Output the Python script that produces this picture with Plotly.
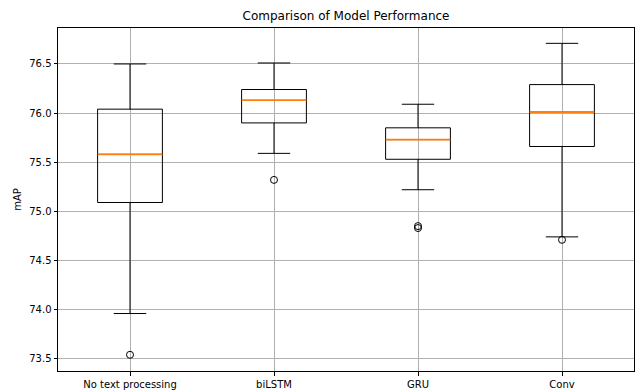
import plotly.graph_objects as go

categories = ["No text processing", "biLSTM", "GRU", "Conv"]
positions = [1, 2, 3, 4]
lower_whisker = [73.96, 75.59, 75.22, 74.74]
q1 = [75.09, 75.90, 75.53, 75.66]
median = [75.58, 76.13, 75.73, 76.01]
q3 = [76.04, 76.24, 75.85, 76.29]
upper_whisker = [76.50, 76.51, 76.09, 76.71]
outliers = [[73.54], [75.32], [74.83, 74.85], [74.71]]
yticks = [73.5, 74.0, 74.5, 75.0, 75.5, 76.0, 76.5]

box_width = 0.45
fig = go.Figure()
for p, lw, a, m, b, uw in zip(positions, lower_whisker, q1, median, q3, upper_whisker):
    fig.add_trace(go.Box(
        x=[p], q1=[a], median=[m], q3=[b], lowerfence=[lw], upperfence=[uw],
        width=box_width, whiskerwidth=0.5, boxpoints=False,
        fillcolor="rgba(0,0,0,0)", line=dict(color="black", width=1),
        showlegend=False, hoverinfo="skip",
    ))
for p, m in zip(positions, median):
    fig.add_trace(go.Scatter(
        x=[p - box_width / 2, p + box_width / 2], y=[m, m], mode="lines",
        line=dict(color="#ff7f0e", width=1.6), showlegend=False, hoverinfo="skip",
    ))
for p, outs in zip(positions, outliers):
    fig.add_trace(go.Scatter(
        x=[p] * len(outs), y=outs, mode="markers",
        marker=dict(symbol="circle-open", size=7, color="black", line=dict(width=1, color="black")),
        showlegend=False, hoverinfo="skip",
    ))

axis_common = dict(
    showline=True, linecolor="black", linewidth=1, mirror=True,
    showgrid=True, gridcolor="#b0b0b0", gridwidth=0.8,
    ticks="outside", ticklen=3.5, tickwidth=0.8, tickcolor="black",
    zeroline=False, automargin=False,
    tickfont=dict(family="DejaVu Sans", size=10, color="black"),
)
fig.update_xaxes(range=[0.5, 4.5], tickvals=positions, ticktext=categories, **axis_common)
fig.update_yaxes(range=[73.375, 76.866], tickvals=yticks, ticktext=[f"{v:.1f}" for v in yticks],
                 title=dict(text="mAP", font=dict(family="DejaVu Sans", size=10, color="black"), standoff=5),
                 **axis_common)
fig.update_layout(
    width=638, height=391,
    margin=dict(l=58, r=4, t=28, b=20),
    plot_bgcolor="white", paper_bgcolor="white",
    title=dict(text="Comparison of Model Performance", x=0.5, xanchor="center",
               xref="paper", y=1 - 16 / 391, yanchor="middle",
               font=dict(family="DejaVu Sans", size=12, color="black")),
    font=dict(family="DejaVu Sans"),
)
fig.write_html("out.html", config={"displayModeBar": False},
               post_script="document.body.style.margin='0';document.body.style.overflow='hidden';")
